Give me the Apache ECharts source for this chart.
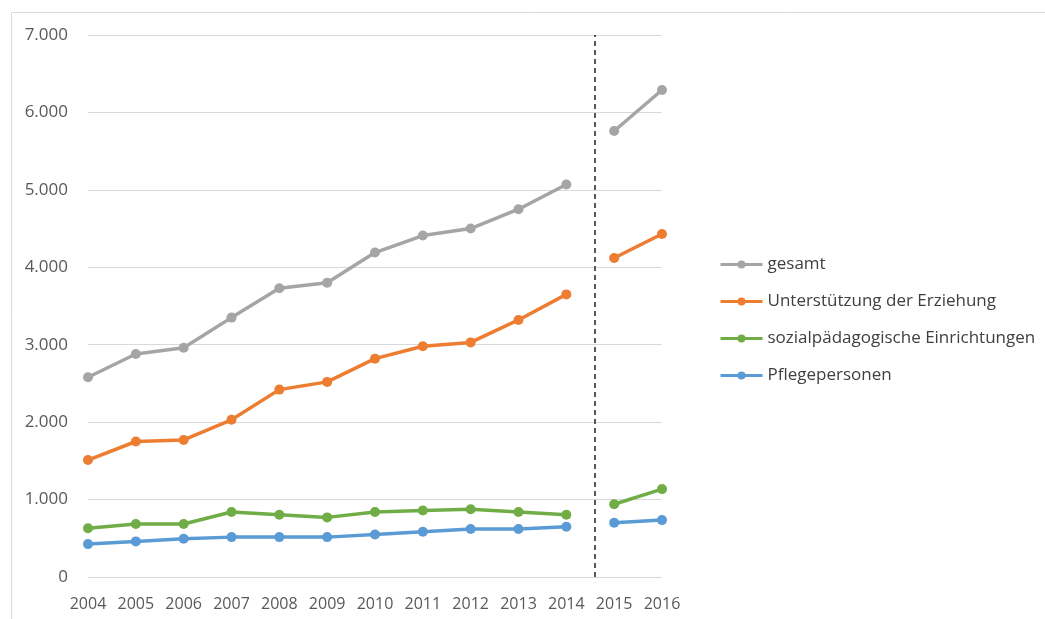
<!DOCTYPE html>
<html>
<head>
<meta charset="utf-8">
<script src="https://cdn.jsdelivr.net/npm/echarts@6/dist/echarts.min.js"></script>
<style>
  html, body { margin: 0; padding: 0; background: #fff; }
  #main { width: 1045px; height: 619px; }
</style>
</head>
<body>
<div id="main"></div>
<script>
// Jahre
const years = ['2004', '2005', '2006', '2007', '2008', '2009', '2010', '2011', '2012', '2013', '2014', '2015', '2016']
// Werte je Reihe (null = Lücke zwischen 2014 und 2015)
const gesamt = [2580, 2880, 2960, 3350, 3730, 3800, 4190, 4410, 4500, 4750, 5070, null, null]
const gesamtNeu = [null, null, null, null, null, null, null, null, null, null, null, 5760, 6290]
const erziehung = [1510, 1750, 1770, 2030, 2420, 2520, 2820, 2980, 3030, 3320, 3650, null, null]
const erziehungNeu = [null, null, null, null, null, null, null, null, null, null, null, 4120, 4430]
const einrichtungen = [630, 685, 685, 840, 805, 770, 840, 860, 875, 840, 805, null, null]
const einrichtungenNeu = [null, null, null, null, null, null, null, null, null, null, null, 940, 1135]
const pflege = [425, 460, 495, 515, 515, 515, 550, 585, 620, 620, 650, null, null]
const pflegeNeu = [null, null, null, null, null, null, null, null, null, null, null, 700, 735]
// Position der Trennlinie (zwischen 2014 und 2015)
const breakAt = 10.6

const chart = echarts.init(document.getElementById('main'))
const font = '"Open Sans", sans-serif'

function lineSeries (name, color, data) {
  return {
    name: name,
    type: 'line',
    data: data,
    color: color,
    symbol: 'circle',
    symbolSize: 10,
    lineStyle: { width: 3.5, color: color },
    itemStyle: { color: color },
    connectNulls: false,
    animation: false
  }
}

const option = {
  animation: false,
  textStyle: { fontFamily: font },
  graphic: [{
    type: 'rect',
    left: 9, top: 10,
    shape: { width: 1100, height: 700 },
    style: { fill: 'none', stroke: '#d9d9d9', lineWidth: 1 },
    silent: true
  }],
  grid: { left: 88, right: 383, top: 35, bottom: 42 },
  legend: {
    orient: 'vertical',
    left: 714,
    top: 251,
    itemGap: 20,
    itemWidth: 42,
    itemHeight: 10,
    lineStyle: { width: 3 },
    textStyle: { fontSize: 17, color: '#404040', fontFamily: font },
    data: ['gesamt', 'Unterstützung der Erziehung', 'sozialpädagogische Einrichtungen', 'Pflegepersonen']
  },
  xAxis: [{
    type: 'category',
    data: years,
    boundaryGap: false,
    axisLine: { show: false },
    axisTick: { show: false },
    axisLabel: { interval: 0, fontSize: 16, color: '#595959', margin: 19, fontFamily: font }
  }, {
    type: 'value',
    min: 0,
    max: 12,
    show: false
  }],
  yAxis: {
    type: 'value',
    min: 0,
    max: 7000,
    interval: 1000,
    axisLine: { show: false },
    axisTick: { show: false },
    splitLine: { lineStyle: { color: '#d9d9d9', width: 1 } },
    axisLabel: {
      fontSize: 17,
      color: '#595959',
      margin: 20,
      fontFamily: font,
      formatter: v => v === 0 ? '0' : (v / 1000).toFixed(0) + '.000'
    }
  },
  series: [
    lineSeries('gesamt', '#a5a5a5', gesamt),
    lineSeries('gesamt', '#a5a5a5', gesamtNeu),
    lineSeries('Unterstützung der Erziehung', '#ed7d31', erziehung),
    lineSeries('Unterstützung der Erziehung', '#ed7d31', erziehungNeu),
    lineSeries('sozialpädagogische Einrichtungen', '#70ad47', einrichtungen),
    lineSeries('sozialpädagogische Einrichtungen', '#70ad47', einrichtungenNeu),
    lineSeries('Pflegepersonen', '#5b9bd5', pflege),
    lineSeries('Pflegepersonen', '#5b9bd5', pflegeNeu),
    {
      type: 'line',
      xAxisIndex: 1,
      data: [],
      silent: true,
      markLine: {
        symbol: 'none',
        silent: true,
        label: { show: false },
        lineStyle: { color: '#222', type: [5, 4], width: 1.5 },
        data: [{ xAxis: breakAt }]
      }
    }
  ]
}

chart.setOption(option)
</script>
</body>
</html>
